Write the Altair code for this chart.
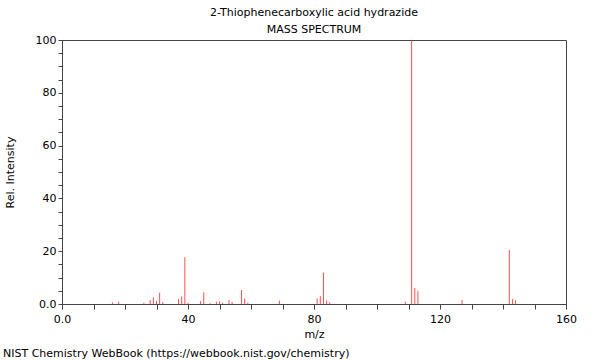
import altair as alt
import pandas as pd

mz = [16, 18, 26, 28, 29, 30, 31, 32, 37, 38, 39, 40, 44, 45, 47, 49, 50, 51, 53, 54,
      57, 58, 59, 69, 81, 82, 83, 84, 85, 109, 111, 112, 113, 127, 142, 143, 144]
intensity = [0.6, 0.9, 0.5, 1.5, 2.5, 1.1, 4.3, 0.8, 1.9, 2.9, 17.7, 0.5, 1.1, 4.4, 0.3, 0.9, 1.0, 0.5, 1.5, 0.8,
             5.3, 2.1, 0.5, 1.3, 2.1, 3.0, 11.9, 1.3, 0.7, 0.9, 100.0, 6.1, 4.9, 1.5, 20.5, 1.9, 1.4]

x_ticks = list(range(0, 161, 10))
y_ticks = list(range(0, 101, 5))

title_text = "2-Thiophenecarboxylic acid hydrazide"
subtitle_text = "MASS SPECTRUM"
footer_text = "NIST Chemistry WebBook (https://webbook.nist.gov/chemistry)"

df = pd.DataFrame({"mz": mz, "intensity": intensity})

FONT = "DejaVu Sans"
W, H = 504, 264

x_enc = alt.X(
    "mz:Q",
    scale=alt.Scale(domain=[0, 160], nice=False, zero=False),
    axis=alt.Axis(
        title="m/z", values=x_ticks,
        labelExpr="datum.value == 0 ? '0.0' : (datum.value % 40 == 0 ? datum.label : '')",
        grid=False, tickSize=5, labelPadding=4, titlePadding=4, labelFlush=False,
    ),
)
y_enc = alt.Y(
    "intensity:Q",
    scale=alt.Scale(domain=[0, 100], nice=False),
    axis=alt.Axis(
        title="Rel. Intensity", values=y_ticks,
        labelExpr="datum.value == 0 ? '0.0' : (datum.value % 20 == 0 ? datum.label : '')",
        grid=False, tickSize=4, labelPadding=2, titlePadding=20, labelFlush=False,
    ),
)

bars = alt.Chart(df).mark_rule(color="#ff2020", strokeWidth=1, opacity=0.8).encode(
    x=x_enc, y=y_enc, y2=alt.datum(0)
)

footer = alt.Chart(pd.DataFrame({"t": [footer_text]})).mark_text(
    align="left", baseline="alphabetic", font=FONT, fontSize=11, color="black"
).encode(text="t:N", x=alt.value(-59), y=alt.value(H + 53))

chart = alt.layer(bars, footer).properties(
    width=W, height=H,
    title=alt.TitleParams(
        text=title_text, subtitle=subtitle_text, fontSize=11, subtitleFontSize=11,
        font=FONT, subtitleFont=FONT, fontWeight="normal", color="black",
        subtitleColor="black", anchor="middle", offset=-1, subtitlePadding=6,
    ),
    autosize=alt.AutoSizeParams(type="none"),
    padding={"left": 62, "top": 40, "right": 34, "bottom": 56},
).configure_view(
    stroke="#444", strokeWidth=1
).configure_axis(
    domainColor="#444", tickColor="#444", labelFont=FONT, titleFont=FONT,
    labelFontSize=11, titleFontSize=11, labelColor="black", titleColor="black",
    titleFontWeight="normal",
)

chart.save("out.html", embed_options={"renderer": "svg", "actions": False})
